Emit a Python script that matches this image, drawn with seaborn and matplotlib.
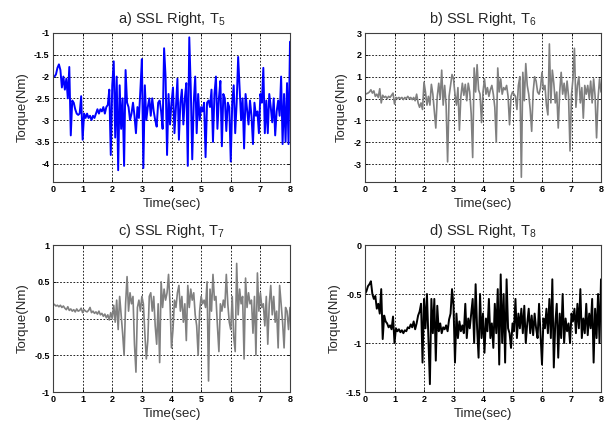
import numpy as np
import pandas as pd
import seaborn as sns
import matplotlib
matplotlib.use("Agg")
import matplotlib.pyplot as plt

# Joint torque traces, sampled every 0.05 s over 0-8 s
time_s = np.round(np.arange(161) * 0.05, 2)

t5 = [
    -2.00, -2.00, -1.95, -1.80, -1.72, -1.85, -2.25, -2.00, -2.30, -2.05, -2.50, -1.78, -3.35, -2.55, -2.60, -2.75, -2.85, -2.88, -2.85, -2.45,
    -3.45, -2.85, -2.95, -2.85, -2.95, -2.90, -3.00, -2.90, -2.95, -2.85, -2.75, -2.85, -2.75, -2.80, -2.70, -2.85, -2.70, -2.65, -2.30, -3.80,
    -2.20, -1.65, -3.40, -2.00, -4.15, -2.20, -3.20, -2.50, -4.05, -1.85, -2.60, -2.70, -3.00, -2.85, -2.60, -2.90, -3.30, -2.70, -2.95, -2.30,
    -1.60, -4.10, -2.20, -3.00, -2.70, -2.50, -2.90, -2.50, -2.80, -3.00, -3.15, -2.60, -2.55, -2.80, -3.20, -1.35, -2.00, -3.80, -2.40, -3.10,
    -2.60, -2.25, -3.30, -2.70, -2.05, -3.45, -2.60, -2.30, -3.10, -2.50, -2.15, -4.05, -1.10, -2.25, -3.90, -2.60, -2.00, -3.30, -2.40, -3.00,
    -2.70, -2.80, -2.60, -3.85, -2.60, -2.55, -2.70, -2.30, -3.50, -2.40, -2.00, -3.20, -2.50, -2.10, -3.60, -2.40, -2.50, -3.25, -2.60, -2.70,
    -3.95, -2.60, -2.20, -3.30, -2.60, -1.55, -2.30, -3.00, -2.50, -3.65, -2.40, -2.75, -3.10, -2.55, -2.90, -3.55, -2.60, -2.90, -2.80, -3.30,
    -2.40, -2.60, -1.80, -3.30, -2.55, -3.30, -2.40, -2.70, -3.05, -2.50, -3.35, -2.80, -2.55, -2.90, -2.00, -3.55, -2.40, -3.50, -2.15, -3.55,
    -1.20,
]

t6 = [
    0.20, 0.22, 0.25, 0.30, 0.40, 0.25, 0.35, 0.10, 0.20, 0.05, 0.45, -0.20, 0.15, 0.05, 0.10, 0.00, 0.10, 0.05, 0.15, 0.25,
    -0.25, 0.05, 0.00, 0.05, 0.00, 0.05, -0.05, 0.05, 0.00, 0.10, 0.00, 0.05, -0.05, 0.05, -0.10, 0.20, -0.20, -0.40, -0.20, -0.50,
    0.75, 0.30, -0.30, 0.10, -0.30, 0.65, 0.20, -0.60, -1.35, 0.10, 0.70, 0.00, 1.30, -0.30, 0.60, -0.30, -2.90, 0.10, 0.60, 1.10,
    0.90, 0.20, -0.30, 0.50, -1.45, 0.10, 0.70, 0.15, 0.65, -0.10, 0.70, 0.30, -0.70, -2.70, 1.40, 0.30, 1.55, 0.40, 0.20, -1.10,
    0.30, 0.90, 0.20, 0.50, 0.10, 0.40, 0.60, 0.20, -0.40, -2.00, 1.40, 0.30, 0.90, 0.20, 0.50, 0.40, 0.60, 0.10, -1.20, 0.10,
    0.30, 0.20, 0.10, -0.50, 0.60, 1.00, -3.60, 1.20, -0.10, 1.60, 0.60, 0.20, -0.50, -1.50, 0.30, 1.00, 0.80, 0.30, 0.20, 0.50,
    1.20, 0.40, 0.60, -0.30, -0.75, 2.50, -0.20, 1.30, 0.70, -0.20, 0.30, -1.35, 0.30, 1.20, 0.20, 0.70, 0.00, 0.80, 0.10, -2.40,
    0.20, 0.90, 2.30, -0.40, 0.60, 1.00, -0.20, 0.50, -0.90, 0.60, 0.20, 0.60, 0.00, 0.80, -0.20, 0.90, 0.10, -1.80, 0.00, 0.90,
    0.30,
]

t7 = [
    0.20, 0.19, 0.17, 0.18, 0.16, 0.18, 0.15, 0.17, 0.14, 0.12, 0.16, 0.11, 0.13, 0.10, 0.12, 0.09, 0.13, 0.10, 0.11, 0.14,
    0.08, 0.12, 0.10, 0.09, 0.11, 0.15, 0.08, 0.10, 0.07, 0.09, 0.06, 0.10, 0.05, 0.07, 0.03, 0.06, 0.01, 0.05, -0.02, 0.08,
    0.00, 0.18, -0.05, 0.25, -0.15, 0.30, 0.05, -0.20, -0.50, 0.20, 0.57, 0.10, 0.35, 0.20, 0.30, -0.35, -0.73, 0.15, 0.25, 0.10,
    0.30, 0.20, -0.20, -0.55, -0.30, 0.30, 0.35, 0.10, 0.30, -0.10, -0.35, 0.20, -0.60, 0.50, 0.15, 0.40, 0.25, 0.35, 0.60, 0.20,
    -0.40, -0.15, 0.25, 0.15, 0.35, 0.45, 0.10, 0.30, -0.05, 0.20, -0.30, 0.45, 0.15, 0.40, 0.25, 0.35, 0.05, -0.10, -0.50, 0.10,
    0.30, 0.20, 0.25, 0.15, 0.50, -0.85, 0.40, 0.10, 0.60, 0.25, 0.30, -0.10, -0.45, 0.20, 0.10, 0.25, 0.15, 0.60, 0.20, -0.05,
    -0.15, 0.30, -0.25, -0.45, 0.75, 0.05, 0.40, 0.20, 0.30, -0.55, 0.55, 0.15, 0.35, 0.20, 0.25, -0.20, 0.30, -0.50, 0.62, 0.10,
    0.35, 0.15, 0.20, -0.10, 0.30, -0.35, 0.20, 0.45, 0.05, 0.30, -0.05, 0.10, -0.40, 0.45, 0.20, -0.05, -0.40, 0.15, 0.10, -0.15,
    0.15,
]

t8 = [
    -0.50, -0.47, -0.42, -0.40, -0.37, -0.50, -0.55, -0.52, -0.65, -0.60, -0.70, -0.45, -0.96, -0.72, -0.78, -0.80, -0.84, -0.82, -0.86, -0.73,
    -1.00, -0.85, -0.88, -0.86, -0.89, -0.87, -0.90, -0.87, -0.88, -0.84, -0.85, -0.81, -0.84, -0.78, -0.86, -0.80, -0.72, -0.68, -0.60, -1.20,
    -0.55, -0.85, -0.50, -0.95, -1.42, -0.55, -0.90, -0.55, -1.18, -0.62, -0.88, -0.80, -0.90, -0.84, -0.86, -0.82, -0.88, -0.76, -0.70, -0.45,
    -0.62, -1.20, -0.70, -0.95, -0.78, -0.88, -0.82, -0.90, -0.60, -0.95, -0.75, -0.85, -0.70, -0.55, -1.00, -0.40, -0.85, -1.15, -0.50, -0.95,
    -0.70, -1.10, -0.75, -0.88, -0.55, -0.95, -0.80, -1.05, -0.60, -0.90, -0.45, -1.22, -0.30, -1.00, -0.50, -1.20, -0.35, -0.85, -0.90, -1.05,
    -0.80, -0.88, -0.55, -0.95, -0.70, -0.85, -0.65, -0.90, -0.62, -1.00, -0.80, -0.65, -0.90, -0.72, -0.92, -0.70, -0.85, -0.95, -0.60, -0.90,
    -1.22, -0.75, -0.85, -0.65, -0.90, -0.55, -0.95, -0.35, -1.25, -0.80, -0.60, -1.15, -0.70, -0.95, -0.50, -1.00, -0.75, -0.88, -0.80, -1.00,
    -0.70, -0.78, -0.65, -0.90, -0.60, -0.85, -0.45, -0.95, -0.75, -0.90, -0.60, -0.92, -0.70, -0.85, -0.55, -1.20, -0.65, -0.95, -0.50, -1.00,
    -0.35,
]

titles = ["a) SSL Right, T$_5$", "b) SSL Right, T$_6$",
          "c) SSL Right, T$_7$", "d) SSL Right, T$_8$"]
series = [t5, t6, t7, t8]
colors = ["#0000ff", "#808080", "#808080", "#000000"]
ylims = [(-4.42, -1.0), (-3.82, 3.0), (-1.0, 1.0), (-1.5, 0.0)]
yticks = [
    [-4, -3.5, -3, -2.5, -2, -1.5, -1],
    [-3, -2, -1, 0, 1, 2, 3],
    [-1, -0.5, 0, 0.5, 1],
    [-1.5, -1, -0.5, 0],
]
ytick_labels = [
    ["-4", "-3.5", "-3", "-2.5", "-2", "-1.5", "-1"],
    ["-3", "-2", "-1", "0", "1", "2", "3"],
    ["-1", "-0.5", "0", "0.5", "1"],
    ["-1.5", "-1", "-0.5", "0"],
]
xticks = [0, 1, 2, 3, 4, 5, 6, 7, 8]

sns.set_theme(style="white")
plt.rcParams["font.family"] = ["Liberation Sans", "DejaVu Sans"]
plt.rcParams["mathtext.default"] = "regular"

fig = plt.figure(figsize=(6.05, 4.23), dpi=100)
W, H = 605.0, 423.0
boxes = [(53, 33, 290, 182), (365, 33, 601, 182),
         (53, 245, 290, 392), (365, 245, 601, 392)]

for i, (x0, y0, x1, y1) in enumerate(boxes):
    ax = fig.add_axes([x0 / W, 1 - y1 / H, (x1 - x0) / W, (y1 - y0) / H])
    df = pd.DataFrame({"Time": time_s, "Torque": series[i]})
    sns.lineplot(data=df, x="Time", y="Torque", ax=ax, color=colors[i],
                 linewidth=1.4 if i in (0, 3) else 1.2, estimator=None, sort=False)
    ax.set_xlim(0, 8)
    ax.set_ylim(*ylims[i])
    ax.set_xticks(xticks)
    ax.set_xticklabels([str(v) for v in xticks], fontsize=6.5, fontweight="bold")
    ax.set_yticks(yticks[i])
    ax.set_yticklabels(ytick_labels[i], fontsize=6.5, fontweight="bold")
    ax.grid(True, color="black", linestyle=(0, (2, 2)), linewidth=0.6)
    ax.tick_params(direction="in", length=2.5, width=0.6, top=True, right=True,
                   bottom=True, left=True, pad=2.5, colors="black")
    for s in ax.spines.values():
        s.set_color("#404040")
        s.set_linewidth(0.8)
    ax.set_title(titles[i], fontsize=10.5, pad=7)
    ax.set_xlabel("Time(sec)", fontsize=9.5, labelpad=2.5)
    ax.set_ylabel("Torque(Nm)", fontsize=9.5, labelpad=4)

fig.savefig("out.png", dpi=100, facecolor="white")
